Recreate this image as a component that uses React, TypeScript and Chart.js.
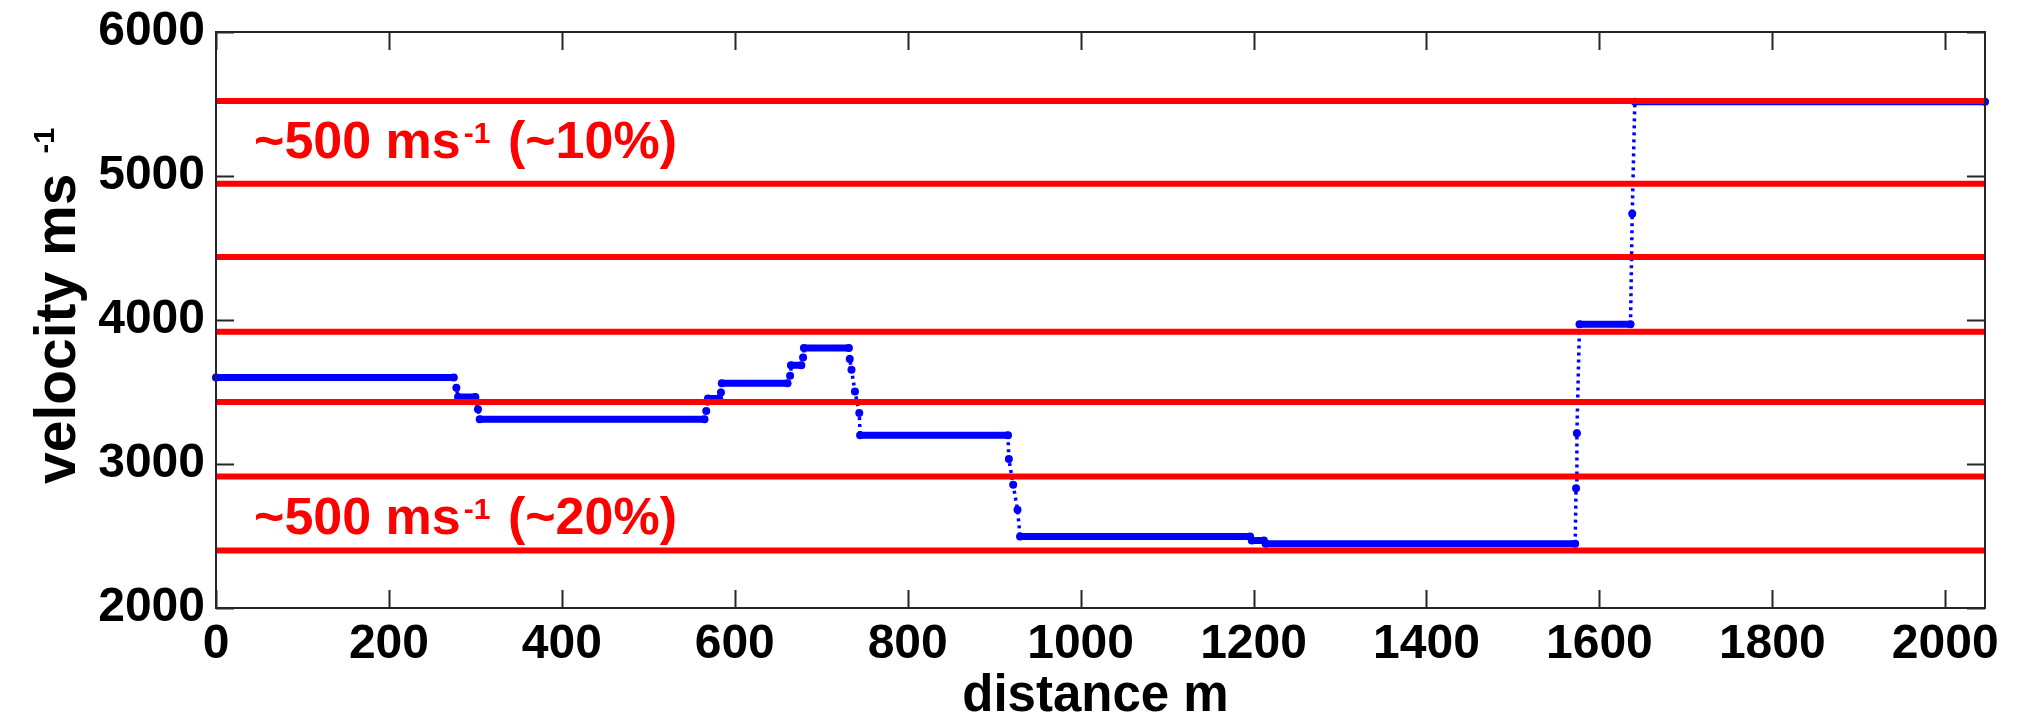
import React, { useEffect, useRef } from "react";
import { Chart, registerables } from "chart.js";

Chart.register(...registerables);

// ---- data ----
const X_MIN = 0;
const X_MAX = 2046;
const Y_MIN = 2000;
const Y_MAX = 6000;

const distance = [
  0, 275, 278, 280, 300, 303, 305, 565, 567, 569, 582, 584, 585, 661, 664, 665, 677, 679, 680,
  732, 733, 735, 739, 744, 745, 916, 917, 922, 927, 930, 1196, 1198, 1212, 1214, 1572, 1573,
  1574, 1577, 1636, 1638, 1641, 2046,
];
const velocity = [
  3600, 3600, 3530, 3465, 3465, 3380, 3310, 3310, 3368, 3455, 3455, 3497, 3560, 3560, 3613, 3685,
  3685, 3740, 3806, 3806, 3730, 3655, 3504, 3354, 3200, 3200, 3035, 2856, 2683, 2497, 2497, 2469,
  2469, 2447, 2447, 2832, 3214, 3970, 3970, 4737, 5516, 5516,
];
const referenceLevels = [5520, 4947, 4437, 3918, 3431, 2914, 2400];

const xTickValues = [0, 200, 400, 600, 800, 1000, 1200, 1400, 1600, 1800, 2000];
const yTickValues = [2000, 3000, 4000, 5000, 6000];

const xTitle = "distance m";
const yTitle = "velocity ms";
const yTitleSup = "-1";

const annotationMain = ["~500 ms", "~500 ms"];
const annotationSup = ["-1", "-1"];
const annotationTail = [" (~10%)", " (~20%)"];
const annotationX = [44, 44];
const annotationY = [5123, 2516];

const FONT = "'Liberation Sans', Arial, Helvetica, sans-serif";
const RED = "#ff0000";
const BLUE = "#0000ff";

const boxPlugin = {
  id: "boxTicks",
  afterDatasetsDraw(chart: any) {
    const { ctx, chartArea } = chart;
    const xs = chart.scales.x;
    const ys = chart.scales.y;
    const L = 18;
    ctx.save();
    ctx.strokeStyle = "#262626";
    ctx.lineWidth = 2;
    ctx.beginPath();
    ctx.rect(chartArea.left, chartArea.top, chartArea.right - chartArea.left, chartArea.bottom - chartArea.top);
    ctx.stroke();
    ctx.beginPath();
    for (const v of xTickValues) {
      const px = Math.round(xs.getPixelForValue(v)) + 0.5;
      ctx.moveTo(px, chartArea.bottom);
      ctx.lineTo(px, chartArea.bottom - L);
      ctx.moveTo(px, chartArea.top);
      ctx.lineTo(px, chartArea.top + L);
    }
    for (const v of yTickValues) {
      const py = Math.round(ys.getPixelForValue(v)) + 0.5;
      ctx.moveTo(chartArea.left, py);
      ctx.lineTo(chartArea.left + L, py);
      ctx.moveTo(chartArea.right, py);
      ctx.lineTo(chartArea.right - L, py);
    }
    ctx.stroke();
    ctx.restore();
  },
};

const textPlugin = {
  id: "texts",
  afterDraw(chart: any) {
    const { ctx, chartArea } = chart;
    const xs = chart.scales.x;
    const ys = chart.scales.y;
    ctx.save();
    ctx.textBaseline = "alphabetic";
    ctx.textAlign = "left";
    // annotations
    for (let i = 0; i < annotationMain.length; i++) {
      let x = xs.getPixelForValue(annotationX[i]);
      const y = ys.getPixelForValue(annotationY[i]);
      ctx.fillStyle = RED;
      ctx.font = `bold 52px ${FONT}`;
      ctx.fillText(annotationMain[i], x, y);
      x += ctx.measureText(annotationMain[i]).width + 3;
      ctx.font = `bold 30px ${FONT}`;
      ctx.fillText(annotationSup[i], x, y - 15);
      x += ctx.measureText(annotationSup[i]).width + 3;
      ctx.font = `bold 52px ${FONT}`;
      ctx.fillText(annotationTail[i], x, y);
    }
    // x title
    ctx.fillStyle = "#000";
    ctx.font = `bold 51px ${FONT}`;
    ctx.textAlign = "center";
    ctx.fillText(xTitle, (chartArea.left + chartArea.right) / 2 - 5, 711);
    // y title
    ctx.textAlign = "left";
    ctx.translate(75, 484);
    ctx.rotate(-Math.PI / 2);
    ctx.font = `bold 57px ${FONT}`;
    ctx.fillText(yTitle, 0, 0);
    const w = ctx.measureText(yTitle).width;
    ctx.font = `bold 29px ${FONT}`;
    ctx.fillText(yTitleSup, w + 20, -21);
    ctx.restore();
  },
};

export default function App() {
  const ref = useRef<HTMLCanvasElement | null>(null);
  useEffect(() => {
    if (!ref.current) return;
    const profile = distance.map((d, i) => ({ x: d, y: velocity[i] }));
    const levelSets = referenceLevels.map((lv) => ({
      data: [
        { x: X_MIN, y: lv },
        { x: X_MAX, y: lv },
      ],
      showLine: true,
      borderColor: RED,
      backgroundColor: RED,
      borderWidth: 6,
      pointRadius: 0,
      order: 0,
      clip: 0,
    }));
    const flat = (c: any) => c.p0.parsed.y === c.p1.parsed.y;
    const chart = new Chart(ref.current, {
      type: "scatter",
      data: {
        datasets: [
          ...levelSets,
          {
            data: profile,
            showLine: true,
            borderColor: BLUE,
            backgroundColor: BLUE,
            borderWidth: 7,
            pointRadius: 4,
            pointBorderWidth: 0,
            pointBackgroundColor: BLUE,
            order: 1,
            clip: { left: 6, right: 6, top: 0, bottom: 0 },
            segment: {
              borderWidth: (c: any) => (flat(c) ? 7 : 3.5),
              borderDash: (c: any) => (flat(c) ? [] : [3, 4]),
              borderCapStyle: (c: any) => (flat(c) ? "round" : "butt"),
            },
          } as any,
        ],
      },
      options: {
        animation: false,
        responsive: true,
        maintainAspectRatio: false,
        layout: { padding: { top: 32, right: 33, left: 0, bottom: 0 } },
        plugins: { legend: { display: false }, tooltip: { enabled: false }, title: { display: false } },
        scales: {
          x: {
            type: "linear",
            min: X_MIN,
            max: X_MAX,
            grid: { display: false, drawTicks: false },
            border: { display: false },
            afterFit: (s: any) => {
              s.height = 111;
            },
            afterBuildTicks: (s: any) => {
              s.ticks = xTickValues.map((v) => ({ value: v }));
            },
            ticks: {
              padding: 8,
              maxRotation: 0,
              autoSkip: false,
              color: "#000",
              font: { family: FONT, size: 48, weight: "bold" },
              callback: (v: any) => String(v),
            },
          },
          y: {
            type: "linear",
            min: Y_MIN,
            max: Y_MAX,
            grid: { display: false, drawTicks: false },
            border: { display: false },
            afterFit: (s: any) => {
              s.width = 216;
              s.paddingTop = 0;
              s.paddingBottom = 0;
            },
            afterBuildTicks: (s: any) => {
              s.ticks = yTickValues.map((v) => ({ value: v }));
            },
            ticks: {
              padding: 11,
              autoSkip: false,
              color: "#000",
              font: { family: FONT, size: 48, weight: "bold" },
              callback: (v: any) => String(v),
            },
          },
        },
      },
      plugins: [boxPlugin, textPlugin],
    });
    return () => chart.destroy();
  }, []);
  return (
    <div style={{ position: "absolute", left: 0, top: 0, width: 2018, height: 719, background: "#fff" }}>
      <canvas ref={ref} />
    </div>
  );
}
